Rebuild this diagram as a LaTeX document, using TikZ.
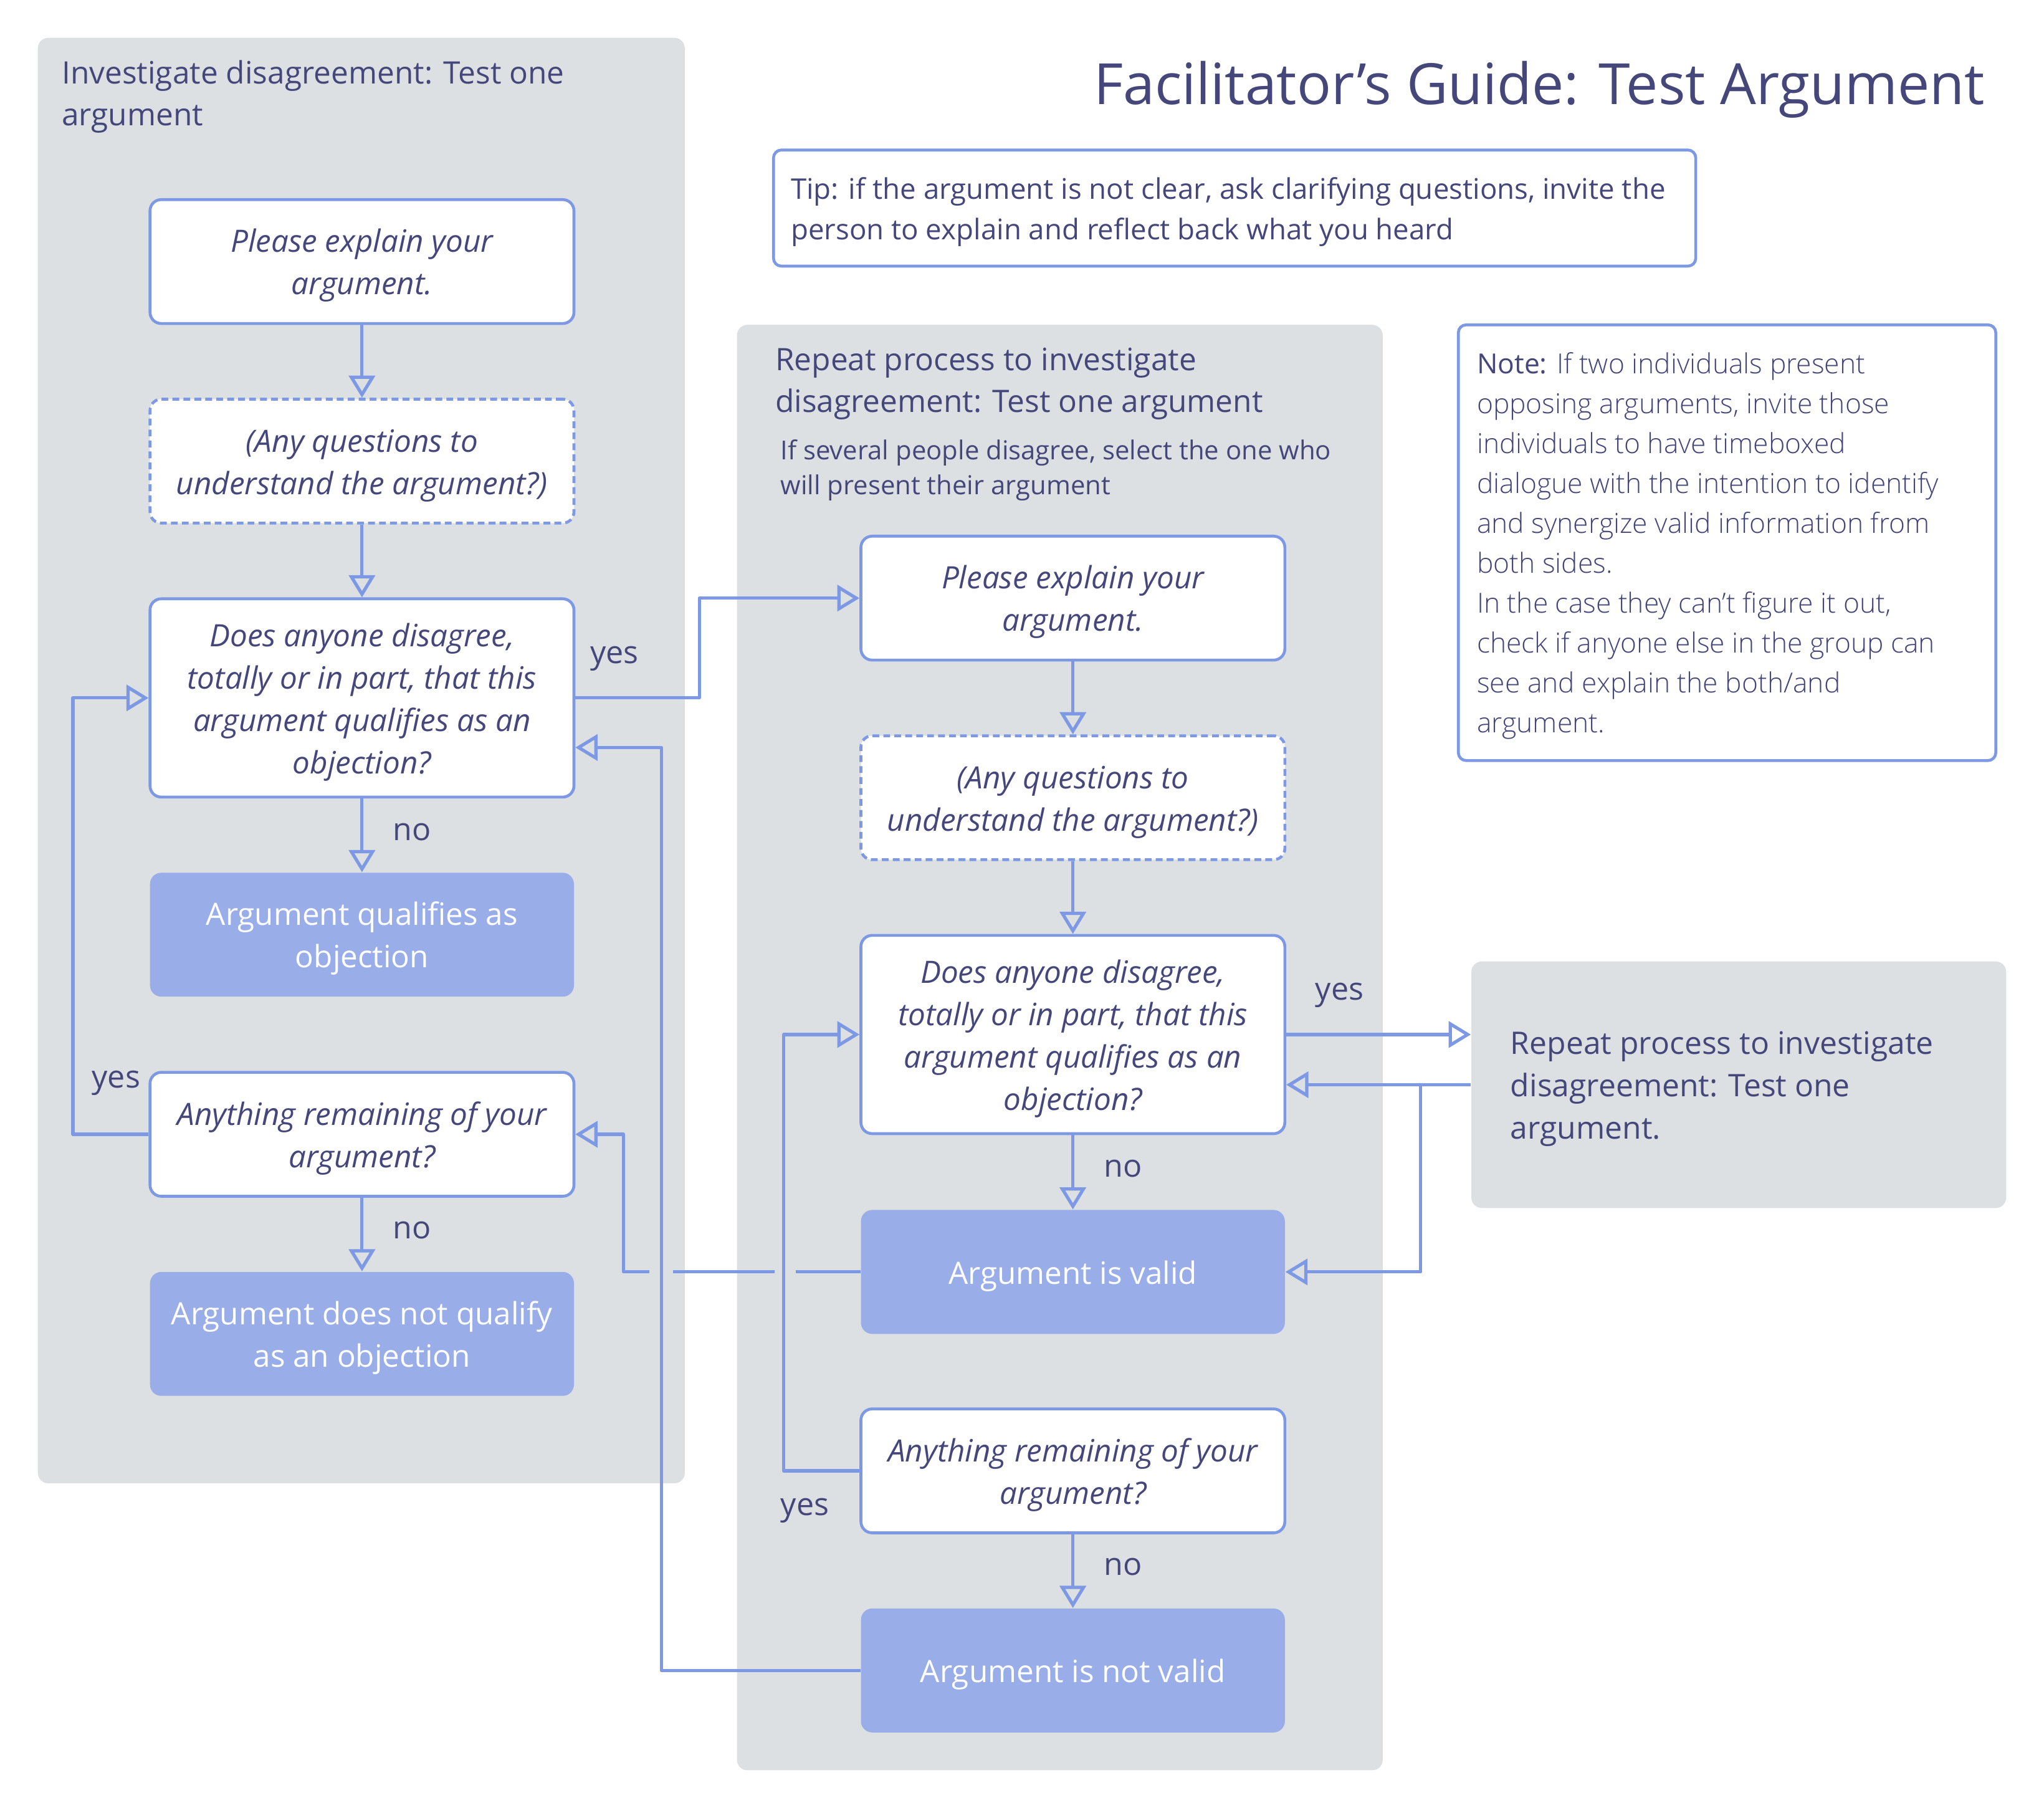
\documentclass[tikz,border=0pt]{standalone}
\usepackage{fontspec}
\setmainfont{Open Sans}
\newfontfamily\lightfont{Open Sans Light}
\usetikzlibrary{arrows.meta}
\definecolor{textc}{HTML}{45467A}
\definecolor{linec}{HTML}{7D98E5}
\definecolor{fillc}{HTML}{99ADE9}
\definecolor{panelc}{HTML}{DDE0E2}
\newcommand\topstrutx{\rule{0pt}{12pt}}
\begin{document}
\begin{tikzpicture}[x=0.5pt,y=-0.5pt,
  box/.style={draw=linec, line width=1.1pt, fill=white, rounded corners=4.3pt, minimum width=162.5pt, minimum height=47.5pt, align=center, inner sep=0pt, text=textc, font=\fontsize{11.8}{16.25}\selectfont\itshape},
  tallbox/.style={box, minimum height=76pt},
  dbox/.style={box, dash pattern=on 2.6pt off 1.6pt},
  res/.style={fill=fillc, rounded corners=4.3pt, minimum width=162.5pt, minimum height=47.5pt, align=center, inner sep=0pt, text=white, font=\fontsize{11.8}{16.25}\selectfont},
  arr/.style={draw=linec, line width=1.25pt, line join=round, -{Triangle[open, length=8.5pt, width=10pt]}},
  lbl/.style={text=textc, font=\fontsize{12}{14}\selectfont, inner sep=0pt},
  txt/.style={text=textc, inner sep=0pt, anchor=west, align=left},
  panel/.style={fill=panelc, rounded corners=4pt},
  note/.style={draw=linec, line width=1.1pt, fill=white, rounded corners=3pt, inner sep=0pt},
]
\useasboundingbox (0,0) rectangle (1567,1385.5);
\fill[white] (0,0) rectangle (1567,1385.5);

% panels
\fill[panel] (29,29) rectangle (525,1137);
\fill[panel] (565,249) rectangle (1060,1357);

% titles and texts
\node[text=textc, inner sep=0pt, anchor=base east, font=\fontsize{21.8}{26}\selectfont] (title) at (1522,80) {Facilitator’s Guide: Test Argument};
\node[txt, font=\fontsize{11.85}{16}\selectfont] (ltitle) at (47,74) {Investigate disagreement: Test one\\argument};
\node[txt, font=\fontsize{11.85}{16}\selectfont] (mtitle) at (594,294) {Repeat process to investigate\\disagreement: Test one argument};
\node[txt, font=\fontsize{10}{13.5}\selectfont] (msub) at (598,360.5) {If several people disagree, select the one who\\will present their argument};

% tip box
\node[note, minimum width=353.5pt, minimum height=44.5pt] (tip) at (946.5,159.5) {};
\node[txt, font=\fontsize{10.9}{15.5}\selectfont] (tiptext) at ([xshift=7pt,yshift=-1.5pt]tip.west) {Tip: if the argument is not clear, ask clarifying questions, invite the\\person to explain and reflect back what you heard};

% note box
\node[note, minimum width=206pt, minimum height=167pt] (notebox) at (1324,416) {};
\node[txt, font=\fontsize{10.6}{15.3}\selectfont\lightfont] (notetext) at ([xshift=7.5pt,yshift=-1.25pt]notebox.west) {{\rmfamily Note:} If two individuals present\\opposing arguments, invite those\\individuals to have timeboxed\\dialogue with the intention to identify\\and synergize valid information from\\both sides.\\In the case they can’t figure it out,\\check if anyone else in the group can\\see and explain the both/and\\argument.};

% right repeat box
\node[panel, minimum width=205pt, minimum height=94.5pt, inner sep=0pt] (R) at (1333,831.5) {};
\node[txt, font=\fontsize{11.9}{16.25}\selectfont] (Rtext) at ([xshift=15pt,yshift=-1.5pt]R.west) {Repeat process to investigate\\disagreement: Test one\\argument.};

% left column
\node[box] (L1) at (277.5,200.5) {\topstrutx Please explain your\\argument.};
\node[dbox] (L2) at (277.5,353.5) {\topstrutx(Any questions to\\understand the argument?)};
\node[tallbox] (L3) at (277.5,535) {\topstrutx Does anyone disagree,\\totally or in part, that this\\argument qualifies as an\\objection?};
\node[res] (L4) at (277.5,716.5) {\topstrutx Argument qualifies as\\objection};
\node[box] (L5) at (277.5,869.5) {\topstrutx Anything remaining of your\\argument?};
\node[res] (L6) at (277.5,1022.5) {\topstrutx Argument does not qualify\\as an objection};

% middle column
\node[box] (M1) at (822.5,458.5) {\topstrutx Please explain your\\argument.};
\node[dbox] (M2) at (822.5,611.5) {\topstrutx(Any questions to\\understand the argument?)};
\node[tallbox] (M3) at (822.5,793) {\topstrutx Does anyone disagree,\\totally or in part, that this\\argument qualifies as an\\objection?};
\node[res] (M4) at (822.5,975) {\topstrutx Argument is valid};
\node[box] (M5) at (822.5,1127.5) {\topstrutx Anything remaining of your\\argument?};
\node[res] (M6) at (822.5,1280.5) {\topstrutx Argument is not valid};

% straight connectors
\draw[arr] (L1) -- (L2);
\draw[arr] (L2) -- (L3);
\draw[arr] (L3) -- (L4);
\draw[arr] (L5) -- (L6);
\draw[arr] (M1) -- (M2);
\draw[arr] (M2) -- (M3);
\draw[arr] (M3) -- (M4);
\draw[arr] (M5) -- (M6);

% loops
\draw[arr] (L5.west) -- ++(-58,0) |- (L3.west);
\draw[arr] (L3.east) -- ++(95,0) |- (M1.west);
\coordinate (j2) at (478,975);
\draw[arr] (M4.west) -- (j2) |- (L5.east);
% line jumps
\fill[panelc] (498,970) rectangle (516,980);
\fill[panelc] (594,970) rectangle (610,980);
\coordinate (j1) at (507,573);
\draw[arr] (M6.west) -| (j1) -- (j1 -| L3.east);
\draw[arr] (M5.west) -- ++(-58,0) |- (M3.west);
\draw[arr] (M3.east) -- (M3.east -| R.west);
\draw[arr] (R.west) -- (R.west -| M3.east);
\coordinate (j3) at (1089,831.5);
\draw[arr] (j3) |- (M4.east);

% labels
\node[lbl] (y1) at (471,505) {yes};
\node[lbl] (n1) at (316,638) {no};
\node[lbl] (y2) at (89,830) {yes};
\node[lbl] (n2) at (316,943) {no};
\node[lbl] (y3) at (1027,763) {yes};
\node[lbl] (n3) at (861,896) {no};
\node[lbl] (y4) at (617,1158) {yes};
\node[lbl] (n4) at (861,1201) {no};
\end{tikzpicture}
\end{document}
